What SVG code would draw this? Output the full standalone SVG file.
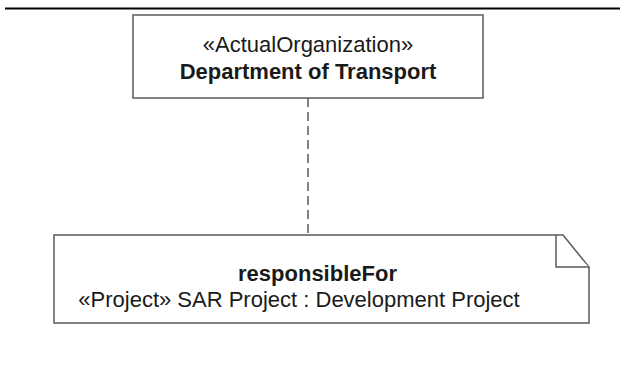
<svg xmlns="http://www.w3.org/2000/svg" width="620" height="370" viewBox="0 0 620 370">
<style>
.shape{fill:#ffffff;stroke:#5a5a5a;stroke-width:1.5}
.t{font-family:"Liberation Sans",Arial,sans-serif;font-size:22px;fill:#1a1a1a;text-anchor:middle}
.b{font-weight:bold}
.conn{stroke:#5a5a5a;stroke-width:1.5;stroke-dasharray:9,5;fill:none}
</style>
<rect width="620" height="370" fill="#ffffff"/>
<line x1="5" y1="8.5" x2="620" y2="8.5" stroke="#000000" stroke-width="2"/>
<g id="connectors">
<line class="conn" x1="308" y1="98" x2="308" y2="235"/>
</g>
<g id="department">
<rect class="shape" x="133" y="15" width="350" height="83"/>
<text class="t" x="308" y="52">«ActualOrganization»</text>
<text class="t b" x="308" y="79">Department of Transport</text>
</g>
<g id="note">
<path class="shape" d="M54,235 H563 L589,267 V323 H54 Z"/>
<path class="shape" fill="none" d="M556,235 V267 H589"/>
<text class="t b" x="317.5" y="281">responsibleFor</text>
<text class="t" x="299" y="307">«Project» SAR Project : Development Project</text>
</g>
</svg>
